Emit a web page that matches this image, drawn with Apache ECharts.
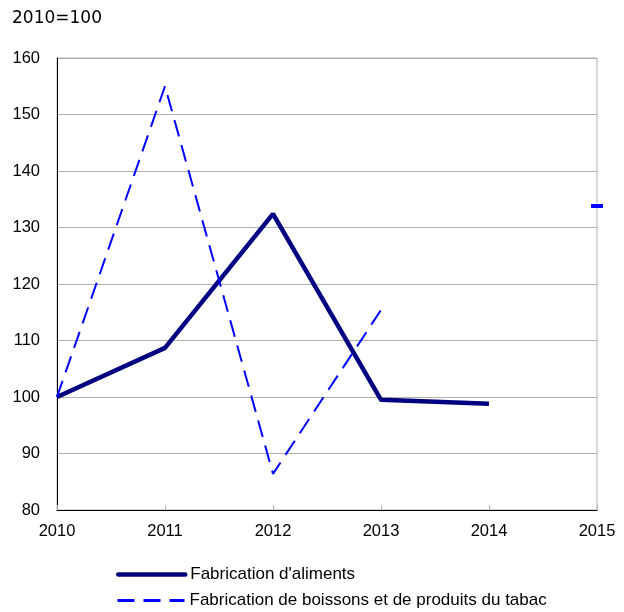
<!DOCTYPE html>
<html>
<head>
<meta charset="utf-8">
<script src="https://cdn.jsdelivr.net/npm/echarts@6/dist/echarts.min.js"></script>
<style>
  html, body { margin: 0; padding: 0; background: #fff; }
  #chart { width: 624px; height: 612px; }
</style>
</head>
<body>
<div id="chart"></div>
<script>
// années
const years = ['2010', '2011', '2012', '2013', '2014', '2015']
// indices 2010=100
const aliments = [100, 108.7, 132.4, 99.5, 98.8, null]
const boissons = [100, 155.0, 86.4, 115.4, null, 133.8]

const nameAliments = "Fabrication d'aliments"
const nameBoissons = 'Fabrication de boissons et de produits du tabac'

// un point isolé (sans voisins) est dessiné comme un petit trait
function withIsolated (arr) {
  return arr.map((v, i) => {
    const prev = i > 0 ? arr[i - 1] : null
    const next = i < arr.length - 1 ? arr[i + 1] : null
    if (v != null && prev == null && next == null) {
      return { value: v, symbol: 'rect', symbolSize: [12, 4] }
    }
    return v
  })
}

const legendText = {
  fontFamily: 'Liberation Sans',
  fontSize: 17,
  color: '#000'
}

const myChart = echarts.init(document.getElementById('chart'))
myChart.setOption({
  animation: false,
  title: {
    text: '2010=100',
    left: 12,
    top: 10,
    padding: 0,
    textStyle: {
      fontFamily: 'DejaVu Sans',
      fontSize: 17,
      fontWeight: 'normal',
      color: '#000'
    }
  },
  grid: {
    left: 57,
    right: 27,
    top: 58,
    bottom: 102,
    show: true,
    borderColor: '#b0b0b0',
    borderWidth: 1
  },
  // une légende par ligne
  legend: [
    {
      data: [nameAliments],
      left: 116,
      top: 566,
      padding: 0,
      itemWidth: 67,
      itemHeight: 18,
      itemGap: 3,
      itemStyle: { opacity: 0 },
      lineStyle: { width: 4.5, cap: 'round' },
      textStyle: legendText
    },
    {
      data: [nameBoissons],
      left: 116,
      top: 592,
      padding: 0,
      itemWidth: 67,
      itemHeight: 18,
      itemGap: 3,
      itemStyle: { opacity: 0 },
      lineStyle: { width: 3 },
      textStyle: legendText
    }
  ],
  xAxis: {
    type: 'category',
    boundaryGap: false,
    data: years,
    axisLine: { lineStyle: { color: '#000', width: 1 } },
    axisTick: { inside: true, length: 5, lineStyle: { color: '#b0b0b0' } },
    axisLabel: {
      margin: 13,
      fontFamily: 'Liberation Sans',
      fontSize: 16.5,
      color: '#000'
    },
    splitLine: { show: false }
  },
  yAxis: {
    type: 'value',
    min: 80,
    max: 160,
    interval: 10,
    axisLine: { show: true, lineStyle: { color: '#000', width: 1 } },
    axisTick: { show: false },
    axisLabel: {
      margin: 17,
      fontFamily: 'Liberation Sans',
      fontSize: 16.5,
      color: '#000'
    },
    splitLine: { lineStyle: { color: '#b0b0b0', width: 1 } }
  },
  series: [
    {
      name: nameAliments,
      type: 'line',
      data: aliments,
      symbol: 'none',
      color: '#000080',
      lineStyle: { color: '#000080', width: 4.5 }
    },
    {
      name: nameBoissons,
      type: 'line',
      data: withIsolated(boissons),
      symbol: 'none',
      clip: false,
      color: '#0000ff',
      itemStyle: { color: '#0000ff' },
      lineStyle: { color: '#0000ff', width: 2, type: [17, 9] }
    }
  ]
})
</script>
</body>
</html>
